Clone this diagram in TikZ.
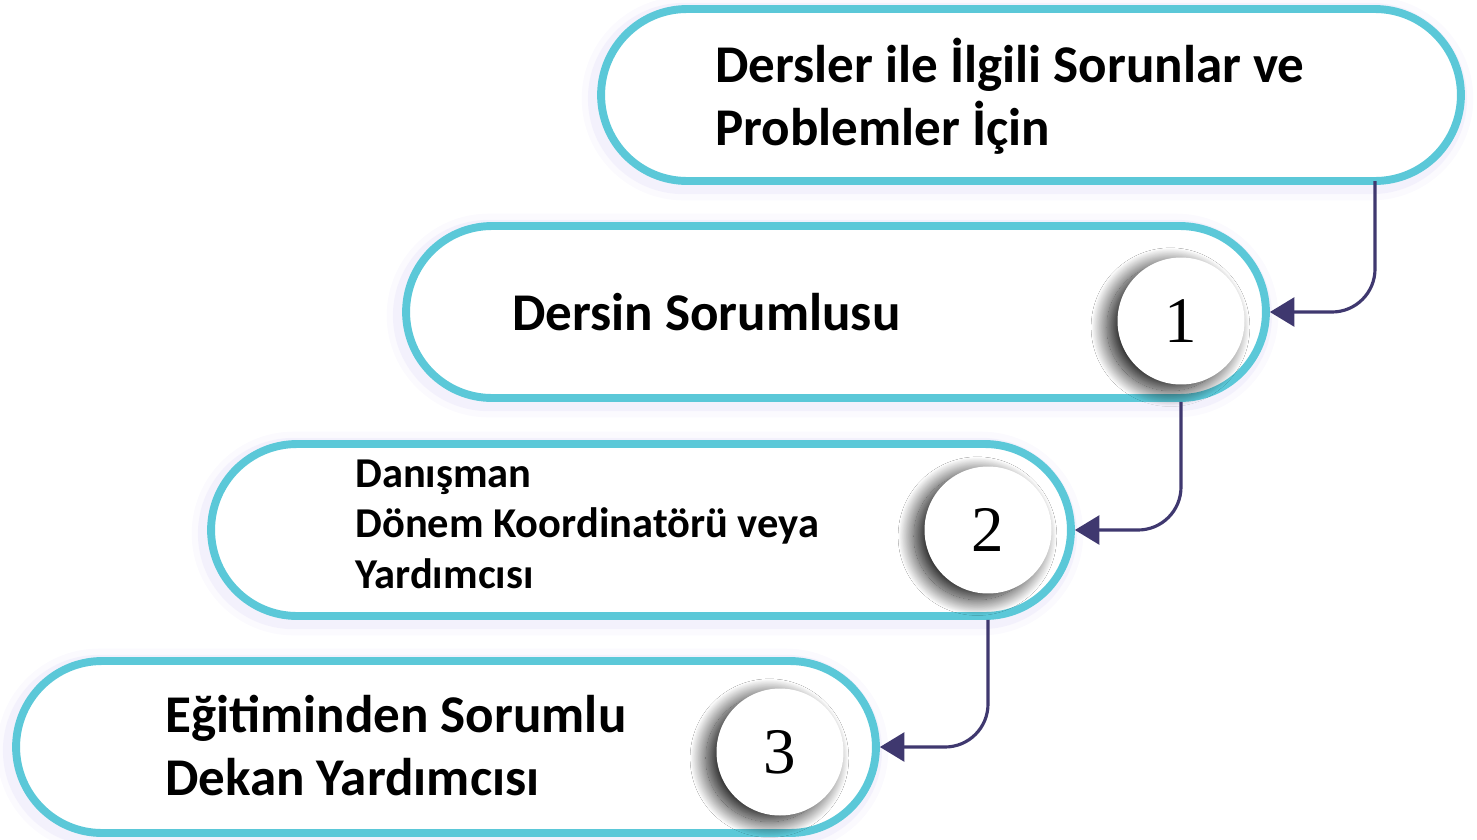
\documentclass[tikz,border=0pt]{standalone}
\usepackage{fontspec}
\setmainfont{Carlito}
\newfontfamily\numfont{Liberation Serif}
\usetikzlibrary{shapes.misc,arrows.meta,shadows.blur}

\definecolor{pillcyan}{HTML}{5BC8D8}
\definecolor{linkpurple}{HTML}{3F386F}
\definecolor{glowlav}{HTML}{D3CAF4}

\tikzset{
  pill/.style={rounded rectangle, draw=pillcyan, line width=4.5pt, fill=white,
    minimum width=17.2cm, minimum height=3.44cm, inner sep=0pt,
    preaction={draw=glowlav, line width=18pt, opacity=.1, transform canvas={xshift=-2pt, yshift=-2pt}},
    preaction={draw=glowlav, line width=11pt, opacity=.18, transform canvas={xshift=-2pt, yshift=-2pt}}},
  bigtext/.style={anchor=base west, align=left, inner sep=0pt,
    font=\fontsize{30.2}{35.7}\selectfont\bfseries},
  smalltext/.style={anchor=base west, align=left, inner sep=0pt,
    font=\fontsize{24.2}{28.6}\selectfont\bfseries},
  numball/.style={circle, fill=white, minimum size=2.54cm, inner sep=0pt,
    font=\fontsize{37}{40}\numfont,
    blur shadow={shadow xshift=-6pt, shadow yshift=-3.5pt, shadow blur radius=9pt,
      shadow blur steps=40, shadow opacity=90}},
  link/.style={draw=linkpurple, line width=1.8pt, rounded corners=0.86cm,
    -{Triangle[length=14pt, width=16.5pt]}}
}

\begin{document}
\begin{tikzpicture}[x=0.02cm, y=-0.02cm]
  \useasboundingbox (0,0) rectangle (1477,839);

  % the four steps
  \node [pill](p1) at (1031,95) {};
  \node [pill](p2) at (836,312) {};
  \node [pill](p3) at (641,530) {};
  \node [pill](p4) at (446,747) {};

  % texts (base = last line)
  \node [bigtext](t1) at (715,145) {Dersler ile İlgili Sorunlar ve\\Problemler İçin};
  \node [bigtext](t2) at (512,330) {Dersin Sorumlusu};
  \node [smalltext](t3) at (355,588) {Danışman\\Dönem Koordinatörü veya\\Yardımcısı};
  \node [bigtext](t4) at (165,795) {Eğitiminden Sorumlu\\Dekan Yardımcısı};

  % numbers
  \node [numball](c1) at (1181,321) {1};
  \node [numball](c2) at (988,530) {2};
  \node [numball](c3) at (780,752) {3};

  % links
  \coordinate (s1) at (1375,181);
  \draw [link] (s1) |- (p2.east);
  \draw [link] (c1 |- p2.south) |- (p3.east);
  \draw [link] (c2 |- p3.south) |- (p4.east);
\end{tikzpicture}
\end{document}
